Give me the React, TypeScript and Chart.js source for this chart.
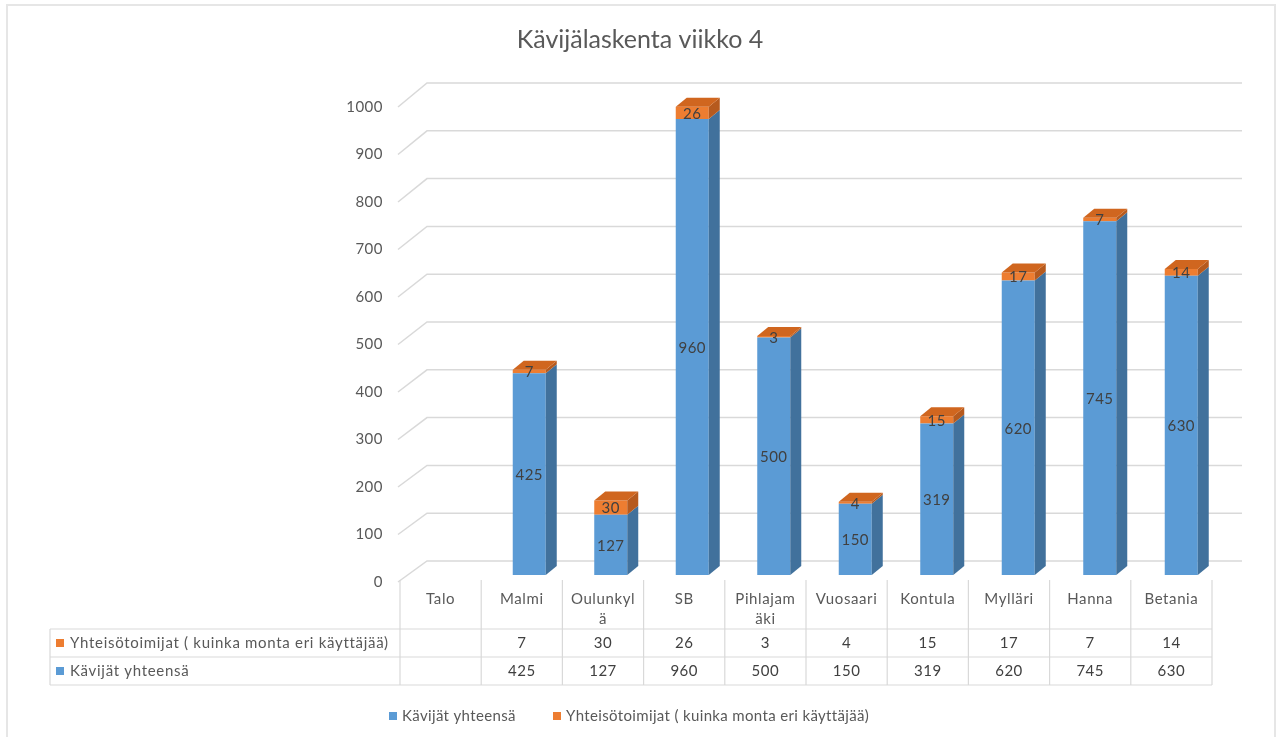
import React, { useEffect, useRef } from "react";
import { Chart, registerables } from "chart.js";

Chart.register(...registerables);

const title = "Kävijälaskenta viikko 4";
const categories = ["Talo", "Malmi", "Oulunkylä", "SB", "Pihlajamäki", "Vuosaari", "Kontula", "Mylläri", "Hanna", "Betania"];
const categoryLines = [["Talo"], ["Malmi"], ["Oulunkyl", "ä"], ["SB"], ["Pihlajam", "äki"], ["Vuosaari"], ["Kontula"], ["Mylläri"], ["Hanna"], ["Betania"]];
const visitorsLabel = "Kävijät yhteensä";
const communityLabel = "Yhteisötoimijat ( kuinka monta eri käyttäjää)";
const visitors = [null, 425, 127, 960, 500, 150, 319, 620, 745, 630];
const community = [null, 7, 30, 26, 3, 4, 15, 17, 7, 14];
const yTicks = [0, 100, 200, 300, 400, 500, 600, 700, 800, 900, 1000];

const BLUE = "#5b9bd5";
const BLUE_SIDE = "#41719c";
const BLUE_TOP = "#4a86bd";
const ORANGE = "#ed7d31";
const ORANGE_SIDE = "#b65a1e";
const ORANGE_TOP = "#d0661f";
const FONT = "Lato, 'Open Sans', sans-serif";
const TEXT = "#595959";
const LABEL = "#404040";
const GRID = "#d9d9d9";

const DX = 11;
const DY = -9;

function setFont(ctx: any, size: number, spacing: number) {
  ctx.font = `${size}px ${FONT}`;
  try {
    ctx.letterSpacing = `${spacing}px`;
  } catch (e) {}
}

const threeD = {
  id: "threeD",
  beforeDraw(chart: any) {
    const ctx = chart.ctx;
    ctx.save();
    ctx.fillStyle = "#ffffff";
    ctx.fillRect(0, 0, chart.width, chart.height);
    ctx.strokeStyle = "#e6e6e6";
    ctx.lineWidth = 2;
    ctx.strokeRect(7, 5, 1268, chart.height + 20);
    ctx.restore();
  },
  beforeDatasetsDraw(chart: any) {
    const ctx = chart.ctx;
    const y = chart.scales.y;
    const area = chart.chartArea;
    ctx.save();
    ctx.strokeStyle = GRID;
    ctx.lineWidth = 1.5;
    setFont(ctx, 15, 0.5);
    ctx.fillStyle = TEXT;
    ctx.textAlign = "right";
    ctx.textBaseline = "middle";
    for (const t of yTicks) {
      const yf = y.getPixelForValue(t);
      const yb = yf - 14 - (3 * t) / 1000;
      ctx.beginPath();
      ctx.moveTo(area.left - 9, yf + 7);
      ctx.lineTo(area.left + 20, yb);
      ctx.lineTo(area.right + 20, yb);
      ctx.stroke();
      ctx.fillText(String(t), area.left - 24, yf + 7);
    }
    ctx.restore();
  },
  afterDatasetsDraw(chart: any) {
    const ctx = chart.ctx;
    const m0 = chart.getDatasetMeta(0);
    const m1 = chart.getDatasetMeta(1);
    const series = [
      { meta: m0, vals: visitors, side: BLUE_SIDE, top: BLUE_TOP },
      { meta: m1, vals: community, side: ORANGE_SIDE, top: ORANGE_TOP },
    ];
    ctx.save();
    for (let i = 0; i < categories.length; i++) {
      let topEl: any = null;
      let topColor = "";
      for (const s of series) {
        if (s.vals[i] == null) continue;
        const el: any = s.meta.data[i];
        const right = el.x + el.width / 2;
        const t = Math.min(el.y, el.base);
        const b = Math.max(el.y, el.base);
        ctx.fillStyle = s.side;
        ctx.beginPath();
        ctx.moveTo(right, t);
        ctx.lineTo(right + DX, t + DY);
        ctx.lineTo(right + DX, b + DY);
        ctx.lineTo(right, b);
        ctx.closePath();
        ctx.fill();
        topEl = el;
        topColor = s.top;
      }
      if (topEl) {
        const left = topEl.x - topEl.width / 2;
        const right = topEl.x + topEl.width / 2;
        const t = Math.min(topEl.y, topEl.base);
        ctx.fillStyle = topColor;
        ctx.beginPath();
        ctx.moveTo(left, t);
        ctx.lineTo(left + DX, t + DY);
        ctx.lineTo(right + DX, t + DY);
        ctx.lineTo(right, t);
        ctx.closePath();
        ctx.fill();
      }
    }
    setFont(ctx, 15, 0.5);
    ctx.fillStyle = LABEL;
    ctx.textAlign = "center";
    ctx.textBaseline = "middle";
    for (const s of series) {
      for (let i = 0; i < categories.length; i++) {
        if (s.vals[i] == null) continue;
        const el: any = s.meta.data[i];
        ctx.fillText(String(s.vals[i]), el.x, (el.y + el.base) / 2 + 1);
      }
    }
    ctx.restore();
  },
  afterDraw(chart: any) {
    const ctx = chart.ctx;
    const area = chart.chartArea;
    const colW = (area.right - area.left) / categories.length - 0.3;
    const tLeft = area.left - 7;
    const tRight = tLeft + colW * categories.length;
    const headTop = area.bottom + 5;
    const r1 = area.bottom + 54;
    const r2 = area.bottom + 82;
    const r3 = area.bottom + 110;
    const labelLeft = 50;
    ctx.save();
    // title
    setFont(ctx, 25, 0);
    ctx.fillStyle = TEXT;
    ctx.textAlign = "center";
    ctx.textBaseline = "middle";
    ctx.fillText(title, 640, 40);
    // table lines
    ctx.strokeStyle = "#d9d9d9";
    ctx.lineWidth = 1.2;
    ctx.beginPath();
    for (let i = 0; i <= categories.length; i++) {
      const x = tLeft + colW * i;
      ctx.moveTo(x, headTop);
      ctx.lineTo(x, r3);
    }
    for (const yy of [r1, r2, r3]) {
      ctx.moveTo(labelLeft, yy);
      ctx.lineTo(tRight, yy);
    }
    ctx.moveTo(labelLeft, r1);
    ctx.lineTo(labelLeft, r3);
    ctx.stroke();
    // header
    setFont(ctx, 15, 0.6);
    ctx.fillStyle = TEXT;
    ctx.textAlign = "center";
    categoryLines.forEach((lines, i) => {
      const cx = tLeft + colW * (i + 0.5);
      lines.forEach((ln, j) => ctx.fillText(ln, cx, headTop + 19 + j * 20));
    });
    // rows
    const rows = [
      { label: communityLabel, color: ORANGE, vals: community, y: (r1 + r2) / 2 },
      { label: visitorsLabel, color: BLUE, vals: visitors, y: (r2 + r3) / 2 },
    ];
    for (const r of rows) {
      ctx.fillStyle = r.color;
      ctx.fillRect(labelLeft + 6, r.y - 4, 8, 8);
      ctx.fillStyle = TEXT;
      ctx.textAlign = "left";
      setFont(ctx, 15, 0.7);
      ctx.fillText(r.label, labelLeft + 20, r.y);
      ctx.fillStyle = LABEL;
      ctx.textAlign = "center";
      setFont(ctx, 15, 0.5);
      r.vals.forEach((v, i) => {
        if (v == null) return;
        ctx.fillText(String(v), tLeft + colW * (i + 0.5), r.y);
      });
    }
    // legend
    const legendY = 716;
    setFont(ctx, 15, 0.35);
    ctx.textAlign = "left";
    ctx.fillStyle = BLUE;
    ctx.fillRect(389, legendY - 4, 8, 8);
    ctx.fillStyle = TEXT;
    ctx.fillText(visitorsLabel, 402, legendY);
    ctx.fillStyle = ORANGE;
    ctx.fillRect(553, legendY - 4, 8, 8);
    ctx.fillStyle = TEXT;
    ctx.fillText(communityLabel, 566, legendY);
    ctx.restore();
  },
};

export default function App() {
  const ref = useRef<HTMLCanvasElement | null>(null);
  useEffect(() => {
    if (!ref.current) return;
    const chart = new Chart(ref.current, {
      type: "bar",
      data: {
        labels: categories,
        datasets: [
          { label: visitorsLabel, data: visitors, backgroundColor: BLUE, borderWidth: 0, barPercentage: 0.405, categoryPercentage: 1 },
          { label: communityLabel, data: community, backgroundColor: ORANGE, borderWidth: 0, barPercentage: 0.405, categoryPercentage: 1 },
        ],
      },
      options: {
        animation: false,
        responsive: true,
        maintainAspectRatio: false,
        layout: { padding: { left: 407, right: 56, top: 100, bottom: 162 } },
        scales: {
          x: { stacked: true, display: false },
          y: { stacked: true, display: false, min: 0, max: 1000 },
        },
        plugins: { legend: { display: false }, title: { display: false }, tooltip: { enabled: false } },
      },
      plugins: [threeD],
    } as any);
    return () => chart.destroy();
  }, []);
  return (
    <div style={{ position: "fixed", left: 0, top: 0, width: 1278, height: 737, background: "#fff" }}>
      <canvas ref={ref} />
    </div>
  );
}
